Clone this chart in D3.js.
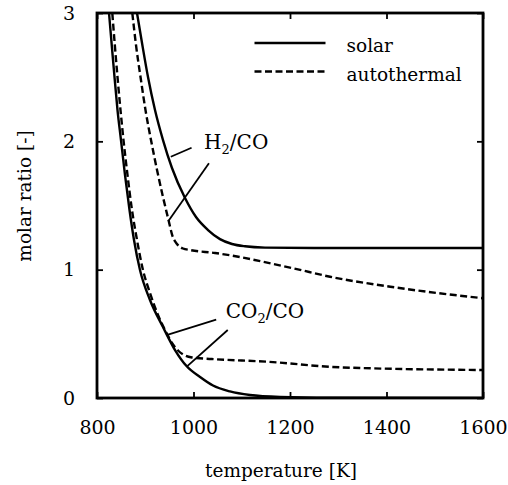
<!DOCTYPE html>
<html>
<head>
<meta charset="utf-8">
<script src="https://cdn.jsdelivr.net/npm/d3@7"></script>
<style>
	body { margin: 0; background: #fff; }
</style>
</head>
<body>
<svg id="chart" width="508" height="485"></svg>
<script>

var FONT = '"DejaVu Serif", serif'

// temperature [K] / molar ratio [-]
var solarH2CO = [
	[882.9, 3.0], [893.3, 2.766], [905.7, 2.501], [920.2, 2.244], [936.8, 2.010],
	[955.4, 1.792], [982.4, 1.558], [1005.2, 1.410], [1030.1, 1.309], [1054.9, 1.238],
	[1079.8, 1.200], [1106.7, 1.182], [1148.2, 1.172], [1250, 1.169], [1600, 1.169]
]
var autoH2CO = [
	[873.2, 3.0], [880.8, 2.751], [890.2, 2.501], [900.5, 2.244], [911.9, 2.010],
	[924.4, 1.777], [936.8, 1.566], [948.2, 1.387], [956.5, 1.262], [965.8, 1.200],
	[978.2, 1.165], [992.7, 1.153], [1044.6, 1.130], [1206.2, 1.011], [1282.9, 0.945],
	[1421.1, 0.860], [1600, 0.777]
]
var solarCO2CO = [
	[824.9, 3.0], [830.5, 2.751], [836.3, 2.501], [842.5, 2.244], [849.7, 2.010],
	[858.0, 1.738], [867.4, 1.465], [876.7, 1.231], [889.1, 0.997], [909.8, 0.764],
	[936.8, 0.553], [961.7, 0.374], [986.5, 0.245], [1013.5, 0.164], [1040.4, 0.097],
	[1075.6, 0.051], [1117.1, 0.023], [1179.3, 0.008], [1282.9, 0.002], [1600, 0.0]
]
var autoCO2CO = [
	[831.7, 3.0], [836.9, 2.751], [842.5, 2.501], [848.7, 2.244], [854.9, 2.010],
	[863.2, 1.738], [872.5, 1.465], [882.9, 1.231], [895.3, 0.997], [909.8, 0.818],
	[926.4, 0.647], [943.0, 0.514], [955.4, 0.429], [967.9, 0.370], [980.3, 0.335],
	[996.9, 0.316], [1037.7, 0.304], [1151.7, 0.283], [1303.6, 0.239], [1600, 0.218]
]

var xTicks = [800, 1000, 1200, 1400, 1600]
var yTicks = [0, 1, 2, 3]

var legendNames = ['solar', 'autothermal']

// label anchors and leader lines, in data units
var labels = [
	{ text: 'H', sub: '2', rest: '/CO', at: [1022, 1.94] },
	{ text: 'CO', sub: '2', rest: '/CO', at: [1067, 0.62] }
]
var leaders = [
	[[953, 1.88], [996, 1.95]],
	[[1032, 1.83], [948, 1.38]],
	[[1047, 0.61], [944, 0.49]],
	[[1071, 0.53], [986, 0.245]]
]

var margin = { left: 97, top: 13, right: 25, bottom: 87 }
	, width = 508 - margin.left - margin.right
	, height = 485 - margin.top - margin.bottom

var svg = d3.select('#chart')

var x = d3.scaleLinear().domain([800, 1600]).range([0, width])
var y = d3.scaleLinear().domain([0, 3]).range([height, 0])

var g = svg.append('g').attr('transform', 'translate(' + margin.left + ',' + margin.top + ')')

g.append('clipPath').attr('id', 'clip')
  .append('rect').attr('width', width).attr('height', height)

var line = d3.line()
	.x(function(d) { return x(d[0]) })
	.y(function(d) { return y(d[1]) })
	.curve(d3.curveMonotoneX)

// curves
var series = [
	{ data: solarH2CO, dash: null },
	{ data: autoH2CO, dash: '7,3.5' },
	{ data: solarCO2CO, dash: null },
	{ data: autoCO2CO, dash: '7,3.5' }
]

g.append('g').attr('clip-path', 'url(#clip)')
  .selectAll('path').data(series)
  .enter()
	.append('path')
	.attr('d', function(d) { return line(d.data) })
	.attr('fill', 'none')
	.attr('stroke', '#000')
	.attr('stroke-width', 2.4)
	.attr('stroke-dasharray', function(d) { return d.dash })

// leader lines
g.selectAll('.leader').data(leaders)
  .enter()
	.append('line')
	.attr('class', 'leader')
	.attr('x1', function(d) { return x(d[0][0]) })
	.attr('y1', function(d) { return y(d[0][1]) })
	.attr('x2', function(d) { return x(d[1][0]) })
	.attr('y2', function(d) { return y(d[1][1]) })
	.attr('stroke', '#000')
	.attr('stroke-width', 1.8)

// curve labels
var lab = g.selectAll('.lab').data(labels)
  .enter()
	.append('text')
	.attr('class', 'lab')
	.attr('x', function(d) { return x(d.at[0]) })
	.attr('y', function(d) { return y(d.at[1]) })
	.style('font-family', FONT)
	.style('font-size', '20px')

lab.append('tspan').text(function(d) { return d.text })
lab.append('tspan').text(function(d) { return d.sub })
	.attr('dy', 5).style('font-size', '13px')
lab.append('tspan').text(function(d) { return d.rest })
	.attr('dy', -5)

// axes, ticks inward on all sides
function tickStyle(sel) {
	sel.attr('font-family', null)
	sel.select('.domain').remove()
	sel.selectAll('.tick line').attr('stroke', '#000').attr('stroke-width', 1.8)
	sel.selectAll('.tick text')
		.attr('fill', '#000')
		.style('font-family', FONT)
		.style('font-size', '19px')
}

var fmt = d3.format('d')

g.append('g').attr('transform', 'translate(0,' + height + ')')
	.call(d3.axisBottom(x).tickValues(xTicks).tickSizeInner(-6).tickSizeOuter(0).tickPadding(23).tickFormat(fmt))
	.call(tickStyle)

g.append('g')
	.call(d3.axisTop(x).tickValues(xTicks).tickSizeInner(-6).tickSizeOuter(0).tickFormat(''))
	.call(tickStyle)

g.append('g')
	.call(d3.axisLeft(y).tickValues(yTicks).tickSizeInner(-6).tickSizeOuter(0).tickPadding(22).tickFormat(fmt))
	.call(tickStyle)

g.append('g').attr('transform', 'translate(' + width + ',0)')
	.call(d3.axisRight(y).tickValues(yTicks).tickSizeInner(-6).tickSizeOuter(0).tickFormat(''))
	.call(tickStyle)

// frame
g.append('rect')
	.attr('width', width)
	.attr('height', height)
	.attr('fill', 'none')
	.attr('stroke', '#000')
	.attr('stroke-width', 2.8)

// legend
var legend = g.selectAll('.legend').data(legendNames)
  .enter()
	.append('g')
	.attr('class', 'legend')
	.attr('transform', function(d, i) { return 'translate(' + (x(1000) + 68) + ',' + (30 + i * 28.5) + ')' })

legend.append('line')
	.attr('x1', -7).attr('x2', 64)
	.attr('stroke', '#000')
	.attr('stroke-width', 2.6)
	.attr('stroke-dasharray', function(d, i) { return i ? '7,3.5' : null })

legend.append('text')
	.attr('x', 85)
	.attr('y', 9)
	.style('font-family', FONT)
	.style('font-size', '18.5px')
	.text(function(d) { return d })

// axis titles
svg.append('text')
	.attr('x', 281)
	.attr('y', 477)
	.attr('text-anchor', 'middle')
	.style('font-family', FONT)
	.style('font-size', '18.5px')
	.text('temperature [K]')

svg.append('text')
	.attr('transform', 'translate(31,196) rotate(-90)')
	.attr('text-anchor', 'middle')
	.style('font-family', FONT)
	.style('font-size', '18.5px')
	.text('molar ratio [-]')

</script>
</body>
</html>
